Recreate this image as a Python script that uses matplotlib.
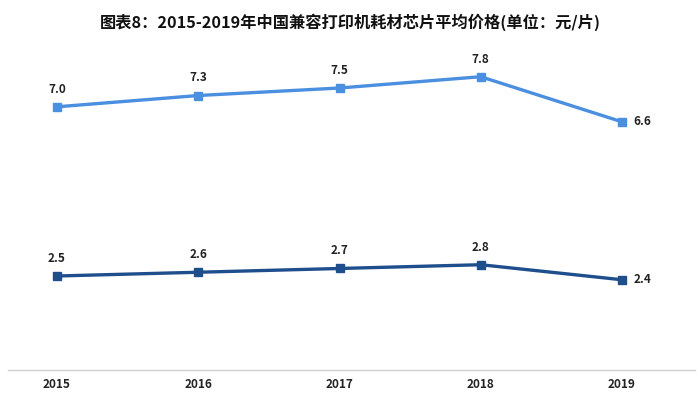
import matplotlib
matplotlib.use("Agg")
import matplotlib.pyplot as plt

plt.rcParams['font.family'] = ['Noto Sans CJK SC', 'DejaVu Sans']

years = ["2015", "2016", "2017", "2018", "2019"]
series_high = [7.0, 7.3, 7.5, 7.8, 6.6]
series_low = [2.5, 2.6, 2.7, 2.8, 2.4]
title = "图表8：2015-2019年中国兼容打印机耗材芯片平均价格(单位：元/片)"

fig = plt.figure(figsize=(7.0, 3.99), dpi=100)
ax = fig.add_axes([8 / 700, (399 - 370) / 399, (695 - 8) / 700, (370 - 50) / 399])

x = list(range(len(years)))
c_high = "#4a8fe0"
c_low = "#1f4e8c"

ax.plot(x, series_high, color=c_high, lw=2.4, marker="s", ms=6, zorder=3)
ax.plot(x, series_low, color=c_low, lw=2.4, marker="s", ms=6, zorder=3)

for i, (a, b) in enumerate(zip(series_high, series_low)):
    for v in (a, b):
        if i == len(x) - 1:
            ax.annotate(f"{v:.1f}", (i, v), xytext=(8, 0), textcoords="offset points",
                        ha="left", va="center", fontsize=8.5, fontweight="bold", color="#222222")
        else:
            ax.annotate(f"{v:.1f}", (i, v), xytext=(0, 8), textcoords="offset points",
                        ha="center", va="bottom", fontsize=8.5, fontweight="bold", color="#222222")

ax.set_xlim((8 - 57) / 141.25, (695 - 57) / 141.25)
ax.set_ylim(0, 320 / 37.6)
ax.set_xticks(x)
ax.set_xticklabels(years, fontsize=8.5, fontweight="bold", color="#222222")
ax.tick_params(axis="x", length=0, pad=6)
ax.set_yticks([])
for s in ["top", "right", "left"]:
    ax.spines[s].set_visible(False)
ax.spines["bottom"].set_color("#d0d0d0")
ax.spines["bottom"].set_linewidth(1.0)

fig.text(0.5, 1 - 22 / 399, title, ha="center", va="center", fontsize=11.7,
         fontweight="bold", color="#111111")

fig.savefig("out.png", dpi=100, facecolor="white")
